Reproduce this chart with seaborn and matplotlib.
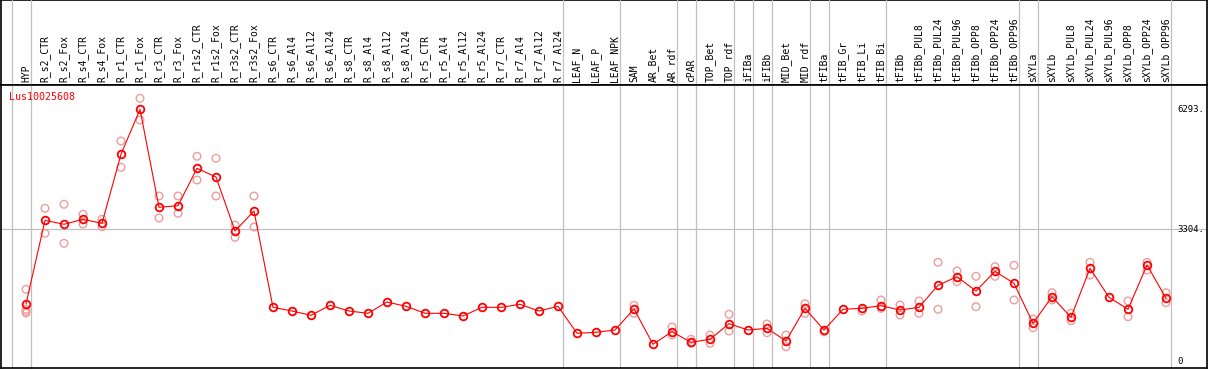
import numpy as np
import pandas as pd
import matplotlib
matplotlib.use("Agg")
import matplotlib.pyplot as plt
import matplotlib.transforms as mtransforms
import seaborn as sns

# ── DATA ──────────────────────────────────────────────────────────────────────
GENE = "Lus10025608"

SAMPLES = [
    "HYP",
    "R_s2_CTR", "R_s2_Fox", "R_s4_CTR", "R_s4_Fox", "R_r1_CTR", "R_r1_Fox",
    "R_r3_CTR", "R_r3_Fox", "R_r1s2_CTR", "R_r1s2_Fox", "R_r3s2_CTR", "R_r3s2_Fox",
    "R_s6_CTR", "R_s6_Al4", "R_s6_Al12", "R_s6_Al24",
    "R_s8_CTR", "R_s8_Al4", "R_s8_Al12", "R_s8_Al24",
    "R_r5_CTR", "R_r5_Al4", "R_r5_Al12", "R_r5_Al24",
    "R_r7_CTR", "R_r7_Al4", "R_r7_Al12", "R_r7_Al24",
    "LEAF_N", "LEAF_P", "LEAF_NPK",
    "SAM", "AR_Bet", "AR_rdf",
    "cPAR",
    "TOP_Bet", "TOP_rdf",
    "iFIBa",
    "iFIBb",
    "MID_Bet", "MID_rdf",
    "tFIBa",
    "tFIB_Gr", "tFIB_Li", "tFIB_Bi",
    "tFIBb", "tFIBb_PUL8", "tFIBb_PUL24", "tFIBb_PUL96",
    "tFIBb_OPP8", "tFIBb_OPP24", "tFIBb_OPP96",
    "sXYLa",
    "sXYLb", "sXYLb_PUL8", "sXYLb_PUL24", "sXYLb_PUL96",
    "sXYLb_OPP8", "sXYLb_OPP24", "sXYLb_OPP96",
]

# samples per block (blocks are split by the grey vertical rules)
GROUP_SIZES = [1, 28, 3, 3, 1, 2, 1, 1, 2, 1, 3, 7, 1, 7]

MEANS = [
    1445,
    3529, 3430, 3554, 3455, 5173, 6293,
    3853, 3893, 4824, 4608, 3263, 3761,
    1362, 1270, 1163, 1412,
    1270, 1213, 1494, 1387,
    1213, 1213, 1146, 1362,
    1362, 1437, 1270, 1387,
    715, 740, 797,
    1320, 441, 755,
    491,
    565, 954,
    797,
    839,
    523, 1337,
    797,
    1313, 1337, 1402,
    1295, 1362, 1910, 2125,
    1768, 2259, 1960,
    964,
    1626, 1113, 2334, 1611,
    1313, 2416, 1587,
]

REPLICATES = [
    [1811, 1313, 1263, 1220],
    [3828, 3205], [3928, 2956], [3679, 3437], [3554, 3370], [5504, 4849], [6568, 6027],
    [4135, 3587], [4135, 3704], [5123, 4533], [5074, 4135], [3412, 3106], [4135, 3362],
    [], [], [], [],
    [], [], [], [],
    [], [], [], [],
    [], [], [], [],
    [], [], [],
    [1412, 1213], [], [872, 672],
    [565, 466],
    [672, 466], [1188, 772],
    [],
    [946, 730],
    [672, 381], [1452, 1213],
    [755],
    [], [1270], [1544, 1337],
    [1420, 1171], [1519, 1213], [2483, 1313], [2267, 2000],
    [2134, 1377], [2374, 2134], [2408, 1544],
    [1071, 854],
    [1726, 1544], [1213, 1029], [2483, 2167], [],
    [1519, 1128], [2483, 2291], [1726, 1477],
]

Y_MARKS = [6293, 3304, 0]
Y_MARK_LABELS = ["6293.", "3304.", "0"]

# ── STYLE ─────────────────────────────────────────────────────────────────────
RED = "#ff0000"
PINK = "#ee9c9c"
RULE = "#c0c0c0"
MONO = "DejaVu Sans Mono"

W, H = 1209, 370          # pixels
X0_PX, STEP_PX = 26, 19    # first sample centre, spacing
ZERO_PX, PX_PER_UNIT = 362, 0.04015
AX_L, AX_R, AX_T, AX_B = 1, 1207, 85, 368

sns.set_style("white")
plt.rcParams["font.family"] = [MONO, "DejaVu Sans"]

pos = np.arange(len(SAMPLES))
means_df = pd.DataFrame({"pos": pos, "value": MEANS})
reps_df = pd.DataFrame(
    [(i, v) for i, reps in enumerate(REPLICATES) for v in reps],
    columns=["pos", "value"],
)

fig = plt.figure(figsize=(W / 100, H / 100), dpi=100)

# header box (labels live here)
hax = fig.add_axes([AX_L / W, (H - AX_T) / H, (AX_R - AX_L) / W, AX_T / H])
hax.set_xticks([]); hax.set_yticks([])
for s in hax.spines.values():
    s.set_color("black"); s.set_linewidth(1.2)
hax.patch.set_alpha(0)

ax = fig.add_axes([AX_L / W, (H - AX_B) / H, (AX_R - AX_L) / W, (AX_B - AX_T) / H])

ax.set_xlim((AX_L - X0_PX) / STEP_PX, (AX_R - X0_PX) / STEP_PX)
ax.set_ylim((ZERO_PX - AX_B) / PX_PER_UNIT, (ZERO_PX - AX_T) / PX_PER_UNIT)

# block separators, running up through the header
bounds = np.concatenate([[0], np.cumsum(GROUP_SIZES)]) - 1 + 0.26
top_frac = AX_B / (AX_B - AX_T)
for b in bounds:
    ax.axvline(b, ymin=0, ymax=top_frac, color=RULE, lw=0.9, clip_on=False, zorder=1)

ax.axhline(Y_MARKS[1], color=RULE, lw=0.9, zorder=1)

sns.scatterplot(data=reps_df, x="pos", y="value", ax=ax, marker="o", s=30,
                color=PINK, facecolors="none", edgecolor=PINK, linewidth=1.0,
                zorder=2, legend=False)
sns.lineplot(data=means_df, x="pos", y="value", ax=ax, color=RED, lw=0.8,
             marker="o", markersize=5.5, markerfacecolor="none",
             markeredgecolor=RED, markeredgewidth=1.3, zorder=3)

ax.xaxis.tick_top()
ax.set_xticks(pos)
ax.set_xticklabels(SAMPLES, rotation=90, fontsize=7, family=MONO)
ax.tick_params(axis="x", length=0, pad=2, colors="black")
ax.set_yticks([])
ax.set_xlabel(""); ax.set_ylabel("")
for s in ax.spines.values():
    s.set_color("black"); s.set_linewidth(1.2)

ymark_tr = mtransforms.blended_transform_factory(ax.transAxes, ax.transData)
for v, lab in zip(Y_MARKS, Y_MARK_LABELS):
    ax.text((1177 - AX_L) / (AX_R - AX_L), v, lab, transform=ymark_tr,
            ha="left", va="center", fontsize=6.5, family=MONO, color="black")

ax.text((9 - AX_L) / (AX_R - AX_L), (AX_B - 97) / (AX_B - AX_T), GENE,
        transform=ax.transAxes, ha="left", va="center",
        fontsize=7.2, family=MONO, color=RED)

fig.savefig("out.png", dpi=100, facecolor="white")
